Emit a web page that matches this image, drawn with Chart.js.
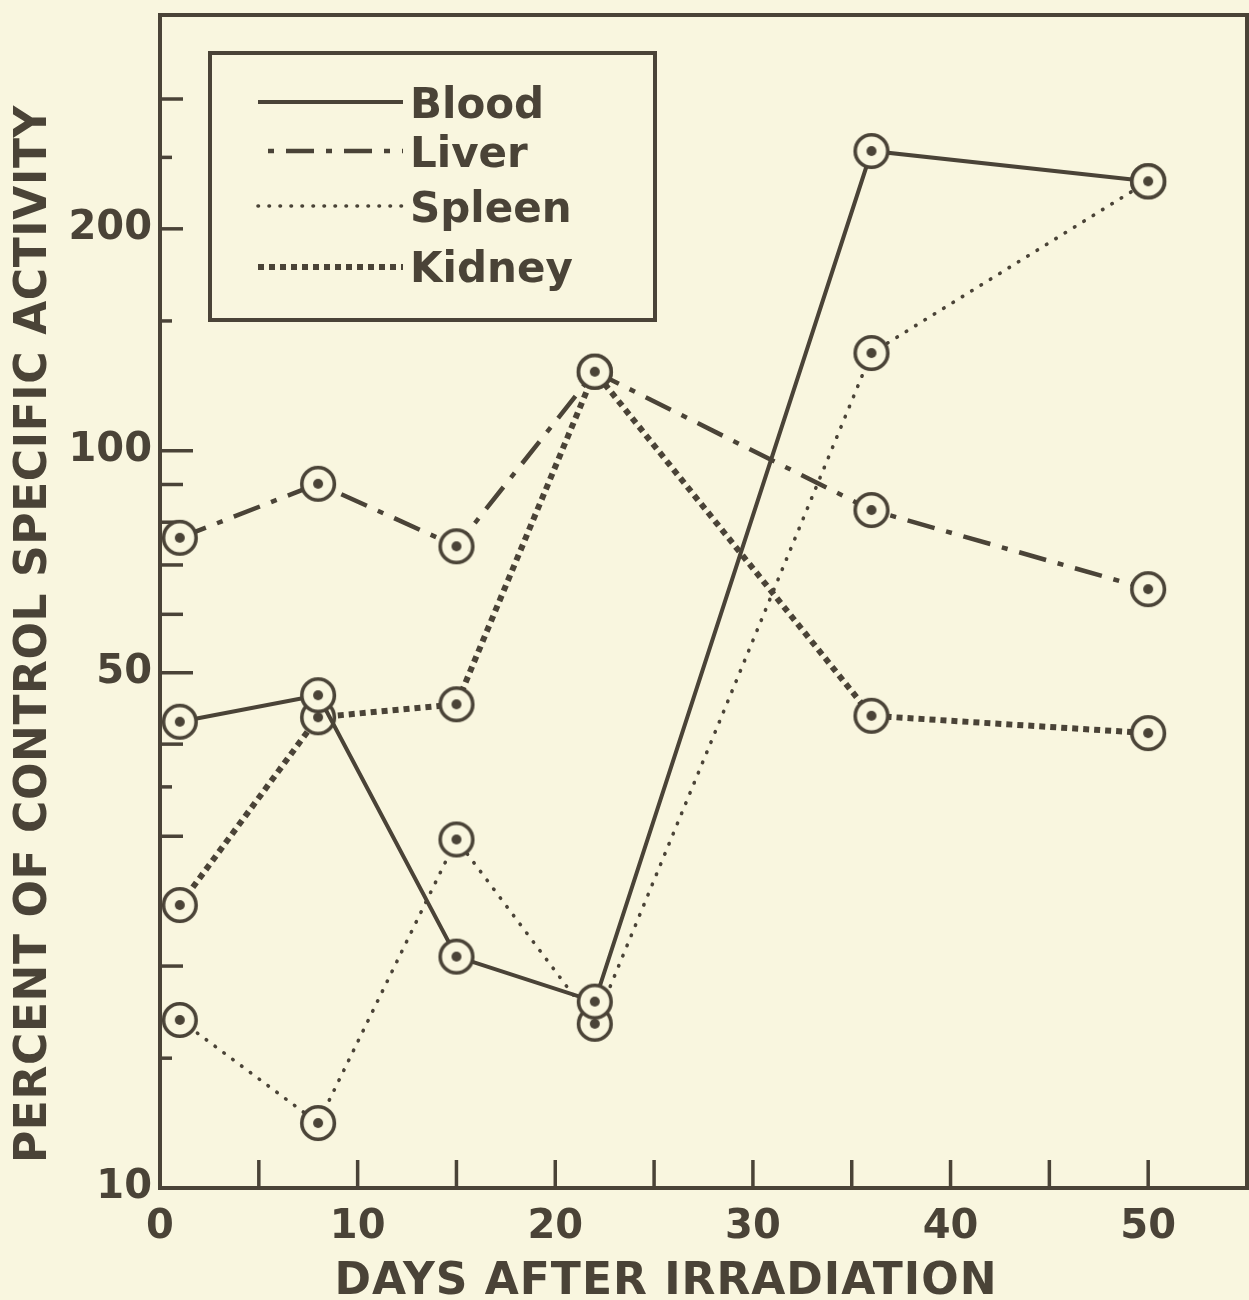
<!DOCTYPE html>
<html><head><meta charset="utf-8">
<script src="https://cdn.jsdelivr.net/npm/chart.js@4"></script>
<style>html,body{margin:0;padding:0;background:#f9f6df;}#wrap{width:1249px;height:1300px;}</style>
</head><body><div id="wrap"><canvas id="c" width="1249" height="1300"></canvas></div>
<script>
// ---- data ----
const days = [1, 8, 15, 22, 36, 50];
const seriesNames = ['Blood', 'Liver', 'Spleen', 'Kidney'];
const blood  = [42.9, 46.6, 20.6, 17.9, 255, 232];
const liver  = [76.2, 90.2, 74.2, 128, 83.1, 64.9];
const spleen = [16.9, 12.25, 29.7, 16.7, 135.7, 232];
const kidney = [24.2, 43.5, 45.3, 128, 43.7, 41.4];
const yTickValues = [10, 15, 20, 30, 35, 40, 50, 60, 70, 80, 90, 100, 150, 200, 250, 300];
const yTickLabels = [10, 50, 100, 200];
const xTickLabels = [0, 10, 20, 30, 40, 50];
const xTitle = 'DAYS AFTER IRRADIATION';
const yTitle = 'PERCENT OF CONTROL SPECIFIC ACTIVITY';

// ---- style ----
const INK = '#4a4337';
const BG = '#f9f6df';
const FONT = '"DejaVu Sans", "Noto Sans", sans-serif';

function makeMarker() {
  const c = document.createElement('canvas');
  c.width = 42; c.height = 42;
  const g = c.getContext('2d');
  g.beginPath(); g.arc(21, 21, 16.3, 0, Math.PI * 2);
  g.fillStyle = BG; g.fill();
  g.lineWidth = 3.6; g.strokeStyle = INK; g.stroke();
  g.beginPath(); g.arc(21, 21, 5, 0, Math.PI * 2);
  g.fillStyle = INK; g.fill();
  return c;
}
const marker = makeMarker();

function pts(vals) { return days.map((d, i) => ({x: d, y: vals[i]})); }

const lineStyles = [
  {borderWidth: 4, borderDash: [], borderCapStyle: 'butt'},
  {borderWidth: 4.5, borderDash: [28, 12, 6, 12], borderCapStyle: 'butt'},
  {borderWidth: 3.6, borderDash: [0.5, 10.5], borderCapStyle: 'round'},
  {borderWidth: 6, borderDash: [6, 5], borderCapStyle: 'butt'}
];
const seriesValues = [blood, liver, spleen, kidney];

const datasets = seriesNames.map((name, i) => Object.assign({
  label: name,
  data: pts(seriesValues[i]),
  borderColor: INK,
  backgroundColor: BG,
  pointStyle: marker,
  pointRadius: 18,
  tension: 0,
  fill: false,
  clip: false
}, lineStyles[i]));

const shortTicks = [15, 35, 150, 250];
const longTicks = [50, 100];

const decorPlugin = {
  id: 'decor',
  beforeDraw(chart) {
    const ctx = chart.ctx;
    ctx.save();
    ctx.fillStyle = BG;
    ctx.fillRect(0, 0, chart.width, chart.height);
    ctx.restore();
  },
  beforeDatasetsDraw(chart) {
    const {ctx, chartArea: a, scales: {x, y}} = chart;
    ctx.save();
    ctx.strokeStyle = INK;
    ctx.lineWidth = 4;
    ctx.strokeRect(a.left, a.top, a.right - a.left, a.bottom - a.top);
    ctx.lineWidth = 3.5;
    yTickValues.forEach(v => {
      if (v === 10) return;
      const py = y.getPixelForValue(v);
      const len = longTicks.includes(v) ? 33 : (shortTicks.includes(v) ? 12 : 23);
      ctx.beginPath(); ctx.moveTo(a.left, py); ctx.lineTo(a.left + len, py); ctx.stroke();
    });
    x.ticks.forEach(t => {
      if (t.value <= 0 || t.value > 50) return;
      const px = x.getPixelForValue(t.value);
      ctx.beginPath(); ctx.moveTo(px, a.bottom); ctx.lineTo(px, a.bottom - 28); ctx.stroke();
    });
    ctx.restore();
  },
  afterDraw(chart) {
    const ctx = chart.ctx;
    ctx.save();
    ctx.fillStyle = INK;
    ctx.textBaseline = 'alphabetic';
    ctx.font = 'bold 44px ' + FONT;
    ctx.letterSpacing = '1px';
    ctx.textAlign = 'center';
    ctx.fillText(xTitle, 666, 1294);
    ctx.save();
    ctx.translate(46, 634);
    ctx.rotate(-Math.PI / 2);
    ctx.letterSpacing = '0.6px';
    ctx.fillText(yTitle, 0, 0);
    ctx.restore();
    ctx.letterSpacing = '0px';
    // legend
    ctx.lineWidth = 4;
    ctx.strokeStyle = INK;
    ctx.strokeRect(210, 53, 445, 267);
    const rowY = [102, 151, 206, 267];
    const baseY = [118, 167, 222, 282];
    ctx.font = 'bold 42px ' + FONT;
    ctx.textAlign = 'left';
    chart.data.datasets.forEach((ds, i) => {
      ctx.save();
      ctx.lineWidth = ds.borderWidth;
      ctx.setLineDash(ds.borderDash || []);
      ctx.lineCap = ds.borderCapStyle || 'butt';
      ctx.strokeStyle = ds.borderColor;
      if (i === 1) ctx.lineDashOffset = 30;
      ctx.beginPath(); ctx.moveTo(258, rowY[i]); ctx.lineTo(403, rowY[i]); ctx.stroke();
      ctx.restore();
      ctx.fillText(ds.label, 410, baseY[i]);
    });
    ctx.restore();
  }
};

new Chart(document.getElementById('c'), {
  type: 'line',
  data: {datasets},
  plugins: [decorPlugin],
  options: {
    responsive: false,
    animation: false,
    devicePixelRatio: 1,
    layout: {autoPadding: false, padding: {top: 15, right: 2, left: 0, bottom: 0}},
    plugins: {legend: {display: false}, tooltip: {enabled: false}, title: {display: false}},
    scales: {
      x: {
        type: 'linear', min: 0, max: 55,
        grid: {display: false, drawTicks: false},
        border: {display: false},
        ticks: {
          stepSize: 5, autoSkip: false, maxRotation: 0, padding: 16,
          color: INK, font: {family: FONT, weight: 'bold', size: 40},
          callback: v => xTickLabels.includes(v) ? String(v) : ''
        },
        afterFit: s => { s.height = 112; s.paddingLeft = 0; s.paddingRight = 0; }
      },
      y: {
        type: 'logarithmic', min: 10, max: 390,
        grid: {display: false, drawTicks: false},
        border: {display: false},
        afterBuildTicks: s => { s.ticks = yTickValues.map(v => ({value: v})); },
        ticks: {
          autoSkip: false, padding: 8,
          color: INK, font: {family: FONT, weight: 'bold', size: 40},
          callback: v => yTickLabels.includes(v) ? String(v) : ''
        },
        afterFit: s => { s.width = 160; s.paddingTop = 0; s.paddingBottom = 0; }
      }
    }
  }
});
</script></body></html>
